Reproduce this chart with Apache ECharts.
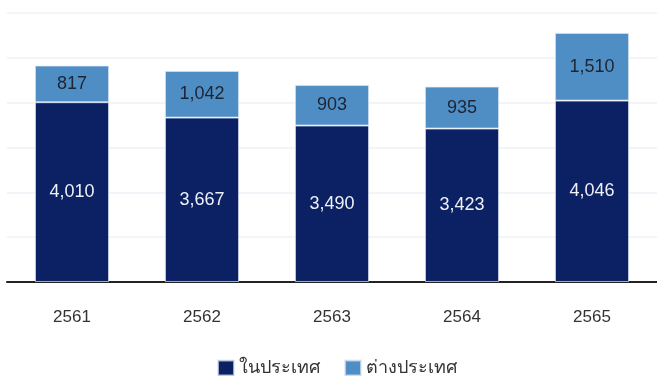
<!DOCTYPE html>
<html>
<head>
<meta charset="utf-8">
<script src="https://cdn.jsdelivr.net/npm/echarts@6/dist/echarts.min.js"></script>
<style>
  html, body { margin: 0; padding: 0; background: #fff; }
  #chart { width: 657px; height: 376px; }
</style>
</head>
<body>
<div id="chart"></div>
<script>
// Fiscal years (Buddhist era)
const years = ['2561', '2562', '2563', '2564', '2565'];
// Domestic and overseas values
const domestic = [4010, 3667, 3490, 3423, 4046];
const overseas = [817, 1042, 903, 935, 1510];
const seriesNames = ['ในประเทศ', 'ต่างประเทศ'];

const fontFamily = '"Liberation Sans", Arial, sans-serif';
const fmt = p => p.value.toLocaleString('en-US');

const chart = echarts.init(document.getElementById('chart'));
chart.setOption({
  animation: false,
  textStyle: { fontFamily: fontFamily },
  grid: { left: 7, right: -3, top: 13, bottom: 94, containLabel: false },
  legend: {
    data: seriesNames,
    top: 354,
    left: 212,
    itemWidth: 16,
    itemHeight: 15,
    itemGap: 24,
    icon: 'rect',
    textStyle: { fontSize: 18, color: '#333', fontFamily: fontFamily }
  },
  xAxis: {
    type: 'category',
    data: years,
    axisLine: { lineStyle: { color: '#222', width: 2 } },
    axisTick: { show: false },
    axisLabel: { fontSize: 17, color: '#333', margin: 27 }
  },
  yAxis: {
    type: 'value',
    min: 0,
    max: 6000,
    interval: 1000,
    axisLabel: { show: false },
    axisLine: { show: false },
    axisTick: { show: false },
    splitLine: { lineStyle: { color: '#edf2f8', width: 1.5 } }
  },
  series: [
    {
      name: seriesNames[0],
      type: 'bar',
      stack: 'total',
      barWidth: '57%',
      data: domestic,
      itemStyle: { color: '#0b2163', borderColor: 'rgba(220,230,245,0.7)', borderWidth: 1 },
      label: { show: true, position: 'inside', color: '#eef1f7', fontSize: 18, formatter: fmt }
    },
    {
      name: seriesNames[1],
      type: 'bar',
      stack: 'total',
      data: overseas,
      itemStyle: { color: '#4f8ec4', borderColor: 'rgba(220,230,245,0.7)', borderWidth: 1 },
      label: { show: true, position: 'inside', color: '#1d2433', fontSize: 18, formatter: fmt }
    }
  ]
});
</script>
</body>
</html>
